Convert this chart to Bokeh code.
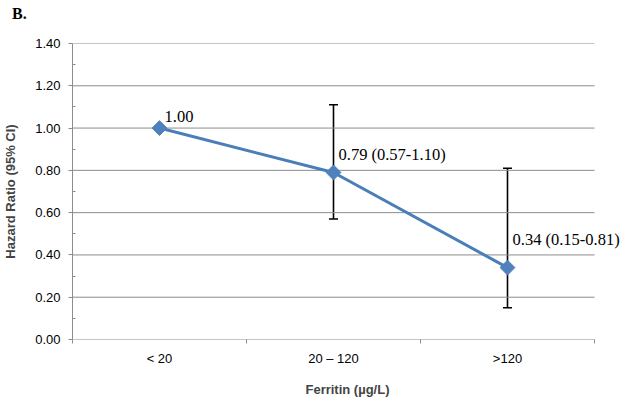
import math
from bokeh.plotting import figure
from bokeh.layouts import column
from bokeh.models import (ColumnDataSource, FixedTicker, Whisker, TeeHead, Div,
                          Range1d, NumeralTickFormatter)
from bokeh.core.properties import value
from bokeh.embed import file_html
from bokeh.resources import INLINE

categories = ["< 20", "20 \u2013 120", ">120"]
hazard_ratio = [1.00, 0.79, 0.34]
ci_lower = [1.00, 0.57, 0.15]
ci_upper = [1.00, 1.11, 0.81]
point_labels = ["1.00", "0.79 (0.57-1.10)", "0.34 (0.15-0.81)"]
y_ticks = [0.0, 0.2, 0.4, 0.6, 0.8, 1.0, 1.2, 1.4]
y_minor_ticks = [0.1, 0.3, 0.5, 0.7, 0.9, 1.1, 1.3]

# label vertical offsets (px above the point) - styling only
label_dy = [6, 8, 19]

n = len(categories)
xpos = [i + 0.5 for i in range(n)]
src = ColumnDataSource(dict(x=xpos, hr=hazard_ratio, lab=point_labels,
                            dy=[-d for d in label_dy]))
eb_src = ColumnDataSource(dict(x=xpos[1:], lo=ci_lower[1:], up=ci_upper[1:]))

# layout (pixels)
W, H = 625, 403
HEAD_H = 22
F_LEFT, F_TOP, F_BOTTOM, GRID_RIGHT = 72, 43, 339, 594
RIGHT_BORDER = 3
px_per_cat = (GRID_RIGHT - F_LEFT) / n
x_end = n + (W - RIGHT_BORDER - GRID_RIGHT) / px_per_cat

head = Div(text="B.", width=100, height=HEAD_H, margin=(0, 0, 0, 0),
           styles={"font-family": "Liberation Serif", "font-weight": "bold",
                   "font-size": "16px", "line-height": "16px",
                   "padding-top": "6px", "padding-left": "12px", "color": "#000000"})

p = figure(width=W, height=H - HEAD_H, output_backend="svg", toolbar_location=None,
           x_range=Range1d(0, x_end), y_range=Range1d(0, y_ticks[-1]),
           min_border_left=F_LEFT, min_border_right=RIGHT_BORDER,
           min_border_top=F_TOP - HEAD_H, min_border_bottom=H - F_BOTTOM)
p.outline_line_color = None

grid_col = "#8c8c8c"
tick_font = "Liberation Sans"

# manual horizontal grid ending at the last category boundary
p.segment(x0=[0] * len(y_ticks), x1=[n] * len(y_ticks), y0=y_ticks, y1=y_ticks,
          line_color=grid_col, line_width=1)
p.xgrid.grid_line_color = None
p.ygrid.grid_line_color = None

# x axis
p.xaxis.ticker = FixedTicker(ticks=xpos, minor_ticks=list(range(n + 1)))
p.xaxis.major_label_overrides = {x: c for x, c in zip(xpos, categories)}
p.xaxis.major_tick_out = 0
p.xaxis.major_tick_in = 0
p.xaxis.minor_tick_out = 4
p.xaxis.minor_tick_in = 0
p.xaxis.axis_line_color = None
p.xaxis.minor_tick_line_color = grid_col
p.xaxis.major_label_text_font = tick_font
p.xaxis.major_label_text_font_size = "13px"
p.xaxis.major_label_text_color = "#000000"
p.xaxis.major_label_standoff = 7
p.xaxis.axis_label = "Ferritin (\u00b5g/L)"
p.xaxis.axis_label_text_font = tick_font
p.xaxis.axis_label_text_font_style = "bold"
p.xaxis.axis_label_text_font_size = "13px"
p.xaxis.axis_label_standoff = 13

# y axis
p.yaxis.ticker = FixedTicker(ticks=y_ticks, minor_ticks=y_minor_ticks)
p.yaxis.formatter = NumeralTickFormatter(format="0.00")
p.yaxis.major_tick_out = 4
p.yaxis.major_tick_in = 0
p.yaxis.minor_tick_in = 3
p.yaxis.minor_tick_out = 0
p.yaxis.axis_line_color = grid_col
p.yaxis.major_tick_line_color = grid_col
p.yaxis.minor_tick_line_color = grid_col
p.yaxis.major_label_text_font = tick_font
p.yaxis.major_label_text_font_size = "13px"
p.yaxis.major_label_text_color = "#000000"
p.yaxis.major_label_standoff = 8
p.yaxis.axis_label = "Hazard Ratio (95% CI)"
p.yaxis.axis_label_text_font = tick_font
p.yaxis.axis_label_text_font_style = "bold"
p.yaxis.axis_label_text_font_size = "13px"
p.yaxis.axis_label_standoff = 14

# line and markers
p.line("x", "hr", source=src, line_color="#4a7ebb", line_width=3)
p.scatter("x", "hr", source=src, marker="square", angle=math.pi / 4, size=10.5,
          fill_color="#4f81bd", line_color="#4f81bd")

# error bars
wh = Whisker(source=eb_src, base="x", lower="lo", upper="up", line_color="black", line_width=1.6,
             lower_head=TeeHead(size=9, line_color="black", line_width=1.6),
             upper_head=TeeHead(size=9, line_color="black", line_width=1.6))
p.add_layout(wh)

# data labels
p.text("x", "hr", text="lab", source=src, x_offset=5, y_offset="dy",
       text_font=value("Liberation Serif"), text_font_size="16.5px", text_color="#000000",
       text_baseline="bottom", text_align="left")

layout = column(head, p, spacing=0)
open("out.html", "w").write(file_html(layout, INLINE))
